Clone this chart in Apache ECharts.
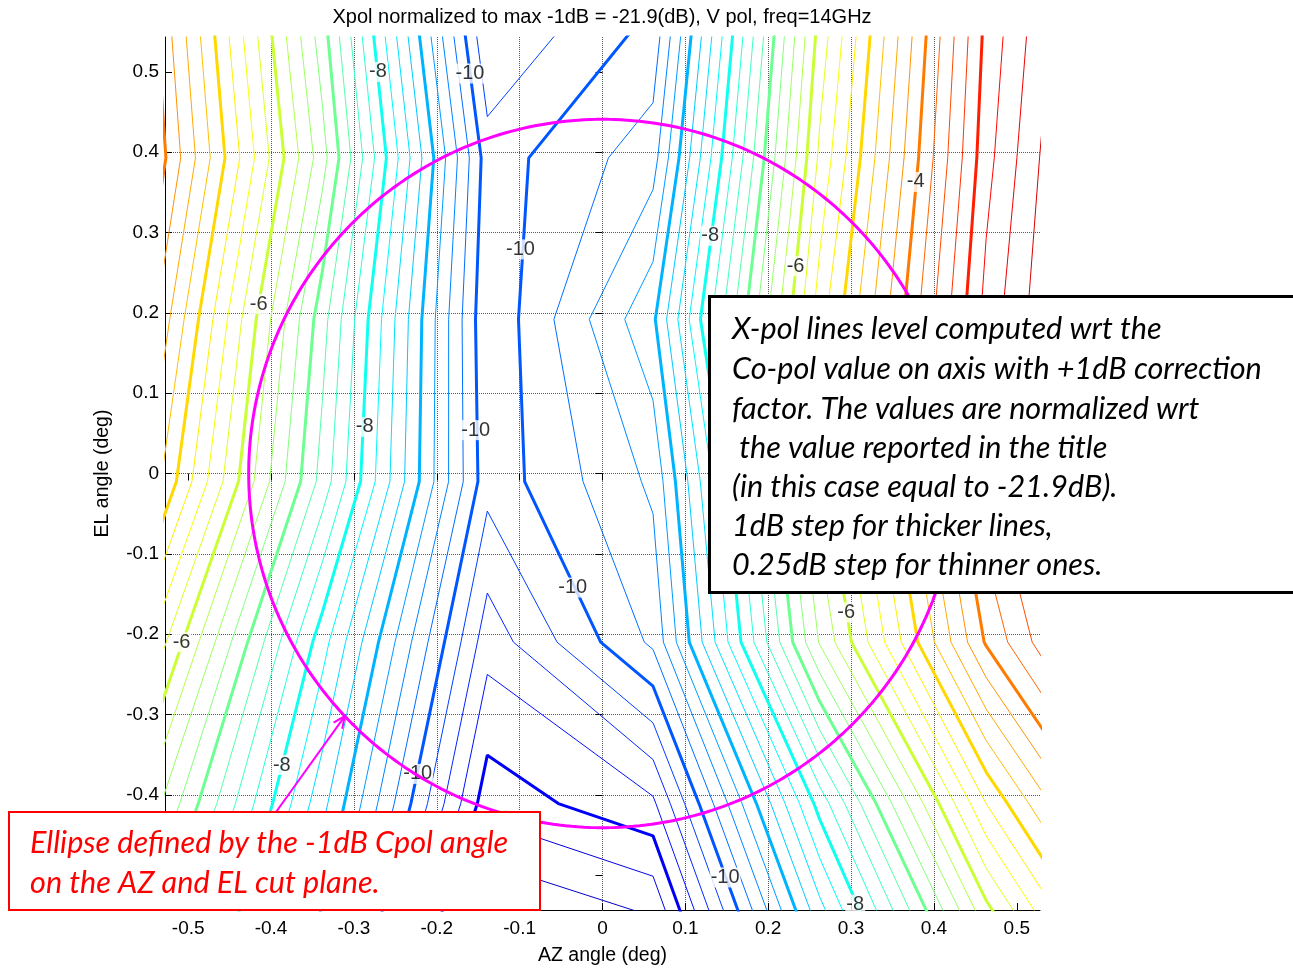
<!DOCTYPE html>
<html>
<head>
<meta charset="utf-8">
<title>Xpol contour</title>
<script src="https://cdn.jsdelivr.net/npm/echarts@6.0.0/dist/echarts.min.js"></script>
<style>
html, body { margin: 0; padding: 0; background: #ffffff; }
#chart { width: 1293px; height: 971px; }
</style>
</head>
<body>
<div id="chart"></div>
<script>
// AZ / EL sample positions of the cross-pol grid (deg)
const azNodes = [-0.539, -0.338, -0.139, 0.061, 0.262, 0.463, 0.664];
const elNodes = [0.594, 0.393, 0.192, -0.010, -0.210, -0.411, -0.612];

// Normalized X-pol level (dB) along AZ, one array per EL sample row
const xpolEl0594  = [-4.02, -6.96, -10.60, -10.02, -5.97, -2.96, -1.20];
const xpolEl0393  = [-3.83, -6.65, -10.13,  -9.61, -5.70, -2.84, -1.00];
const xpolEl0192  = [-4.26, -7.15, -10.22,  -9.05, -5.36, -2.66, -1.00];
const xpolElM0010 = [-4.67, -7.35, -10.16,  -9.45, -6.10, -3.55, -2.00];
const xpolElM0210 = [-5.59, -8.15, -10.65,  -9.70, -6.48, -3.97, -2.27];
const xpolElM0411 = [-6.43, -8.67, -11.15, -10.80, -7.90, -5.25, -3.30];
const xpolElM0612 = [-7.20, -9.20, -12.10, -11.80, -8.94, -6.50, -4.50];

// Tick values of both axes
const azTicks = [-0.5, -0.4, -0.3, -0.2, -0.1, 0, 0.1, 0.2, 0.3, 0.4, 0.5];
const elTicks = [-0.5, -0.4, -0.3, -0.2, -0.1, 0, 0.1, 0.2, 0.3, 0.4, 0.5];

// Contour levels: 1 dB thick lines, 0.25 dB thin lines in between
const thickLevels = [-12, -11, -10, -9, -8, -7, -6, -5, -4, -3, -2, -1];
const thinOffsets = [0.25, 0.5, 0.75];

// Inline contour labels: [AZ, EL, text]
const lineLabels = [
  [-0.271, 0.500, '-8'], [-0.160, 0.498, '-10'], [-0.099, 0.279, '-10'],
  [0.130, 0.296, '-8'], [0.233, 0.258, '-6'], [0.378, 0.363, '-4'],
  [-0.415, 0.211, '-6'], [-0.287, 0.058, '-8'], [-0.153, 0.054, '-10'],
  [-0.036, -0.142, '-10'], [0.294, -0.173, '-6'], [-0.508, -0.210, '-6'],
  [-0.387, -0.363, '-8'], [-0.223, -0.374, '-10'], [0.148, -0.503, '-10'],
  [0.305, -0.537, '-8']
];

// -1 dB Cpol ellipse half widths (deg) and its pointer
const ellipseHalfAz = 0.427;
const ellipseHalfEl = 0.441;
const arrowTip = [-0.311, -0.302];
const arrowTail = [-0.418, -0.456];

const titleText = 'Xpol normalized to max -1dB = -21.9(dB), V pol, freq=14GHz';
const noteLines = [
  'X-pol lines level computed wrt the',
  'Co-pol value on axis with +1dB correction',
  'factor. The values are normalized wrt',
  ' the value reported in the title',
  '(in this case equal to -21.9dB).',
  '1dB step for thicker lines,',
  '0.25dB step for thinner ones.'
];
const ellipseNote = ['Ellipse defined by the -1dB Cpol angle', 'on the AZ and EL cut plane.'];

const xpolGrid = [xpolEl0594, xpolEl0393, xpolEl0192, xpolElM0010, xpolElM0210, xpolElM0411, xpolElM0612];
const azRange = [-0.528, 0.528];
const elRange = [-0.5435, 0.5435];
const colourLimits = [-12.3, -1.3];
const sans = '"Liberation Sans", Arial, Helvetica, sans-serif';
const noteFont = 'Lato, "Open Sans", sans-serif';

// jet colour map
function jet(level) {
  const t = Math.min(1, Math.max(0, (level - colourLimits[0]) / (colourLimits[1] - colourLimits[0])));
  const c = v => Math.round(255 * Math.min(1, Math.max(0, v)));
  return 'rgb(' + c(1.5 - Math.abs(4 * t - 3)) + ',' + c(1.5 - Math.abs(4 * t - 2)) + ',' + c(1.5 - Math.abs(4 * t - 1)) + ')';
}

// Marching squares on the sample grid, returns polylines for one level
function traceLevel(level) {
  const nr = elNodes.length, nc = azNodes.length;
  const cross = (r1, c1, r2, c2) => {
    const v1 = xpolGrid[r1][c1], v2 = xpolGrid[r2][c2];
    const t = (level - v1) / (v2 - v1);
    return [azNodes[c1] + t * (azNodes[c2] - azNodes[c1]), elNodes[r1] + t * (elNodes[r2] - elNodes[r1])];
  };
  const segs = [];
  for (let r = 0; r < nr - 1; r++) {
    for (let c = 0; c < nc - 1; c++) {
      const tl = xpolGrid[r][c], tr = xpolGrid[r][c + 1];
      const bl = xpolGrid[r + 1][c], br = xpolGrid[r + 1][c + 1];
      const up = v => v >= level;
      const pts = {};
      if (up(tl) !== up(tr)) pts.t = cross(r, c, r, c + 1);
      if (up(tr) !== up(br)) pts.r = cross(r, c + 1, r + 1, c + 1);
      if (up(bl) !== up(br)) pts.b = cross(r + 1, c, r + 1, c + 1);
      if (up(tl) !== up(bl)) pts.l = cross(r, c, r + 1, c);
      const keys = Object.keys(pts);
      if (keys.length === 2) {
        segs.push([pts[keys[0]], pts[keys[1]]]);
      } else if (keys.length === 4) {
        const centre = (tl + tr + bl + br) / 4;
        if (up(centre) === up(tl)) {
          segs.push([pts.t, pts.r]);
          segs.push([pts.b, pts.l]);
        } else {
          segs.push([pts.t, pts.l]);
          segs.push([pts.r, pts.b]);
        }
      }
    }
  }
  // join segments into polylines
  const key = p => p[0].toFixed(9) + ',' + p[1].toFixed(9);
  const ends = new Map();
  segs.forEach((s, i) => s.forEach(p => {
    const k = key(p);
    if (!ends.has(k)) ends.set(k, []);
    ends.get(k).push(i);
  }));
  const used = segs.map(() => false);
  const nextFrom = p => {
    const list = ends.get(key(p)) || [];
    for (const j of list) {
      if (!used[j]) {
        used[j] = true;
        const s = segs[j];
        return key(s[0]) === key(p) ? s[1] : s[0];
      }
    }
    return null;
  };
  const degree = p => (ends.get(key(p)) || []).length;
  const order = segs.map((s, i) => i).sort((a, b) =>
    Math.min(degree(segs[a][0]), degree(segs[a][1])) - Math.min(degree(segs[b][0]), degree(segs[b][1])));
  const lines = [];
  for (const i of order) {
    if (used[i]) continue;
    used[i] = true;
    const line = [segs[i][0], segs[i][1]];
    let p;
    while ((p = nextFrom(line[line.length - 1]))) line.push(p);
    while ((p = nextFrom(line[0]))) line.unshift(p);
    lines.push(line);
  }
  return lines;
}

const series = [];
function addLevel(level, width) {
  traceLevel(level).forEach(line => {
    series.push({
      type: 'line', data: line, symbol: 'none', showSymbol: false, silent: true,
      clip: true, z: width > 2 ? 3 : 2,
      lineStyle: { color: jet(level), width: width, join: 'bevel' }
    });
  });
}
thickLevels.forEach(L => thinOffsets.forEach(o => addLevel(L + o, 1)));
thickLevels.forEach(L => addLevel(L, 3));

// -1 dB ellipse
const ellipsePts = [];
for (let k = 0; k <= 360; k++) {
  const a = k * Math.PI / 180;
  ellipsePts.push([ellipseHalfAz * Math.cos(a), ellipseHalfEl * Math.sin(a)]);
}
const ellipseSeriesIndex = series.length;
series.push({
  type: 'line', data: ellipsePts, symbol: 'none', silent: true, z: 6,
  lineStyle: { color: '#ff00ff', width: 3 }
});

// contour labels
series.push({
  type: 'scatter', data: lineLabels, symbolSize: 0, silent: true, z: 5,
  label: {
    show: true, position: 'inside', formatter: p => p.data[2],
    color: '#000', fontSize: 20, fontFamily: sans,
    backgroundColor: '#ffffff', padding: [0, 1]
  }
});

const tickText = v => (Math.abs(v) < 1e-9 ? '0' : v.toFixed(1));
const tickStyle = { show: true, inside: true, length: 7, lineStyle: { color: '#000', width: 1 } };
const gridLineStyle = { color: '#5a5a5a', width: 1, type: [1, 1] };

const option = {
  animation: false,
  backgroundColor: '#ffffff',
  grid: { left: 165, top: 37, width: 875, height: 875, containLabel: false },
  xAxis: [{
    type: 'value', min: azRange[0], max: azRange[1], position: 'bottom', splitNumber: 10,
    axisLine: { show: true, onZero: false, lineStyle: { color: '#000', width: 1 } },
    axisTick: Object.assign({ customValues: azTicks }, tickStyle),
    axisLabel: { show: true, customValues: azTicks, formatter: tickText, color: '#000', fontSize: 19, fontFamily: sans, margin: 9 },
    splitLine: { show: true, showMinLine: false, showMaxLine: false, lineStyle: gridLineStyle },
    name: 'AZ angle (deg)', nameLocation: 'middle', nameGap: 36,
    nameTextStyle: { color: '#000', fontSize: 19.5, fontFamily: sans }
  }, {
    type: 'value', min: azRange[0], max: azRange[1], position: 'top', splitNumber: 10,
    axisLine: { show: false },
    axisTick: Object.assign({ customValues: azTicks }, tickStyle),
    axisLabel: { show: false }, splitLine: { show: false }
  }],
  yAxis: [{
    type: 'value', min: elRange[0], max: elRange[1], position: 'left', splitNumber: 10,
    axisLine: { show: true, onZero: false, lineStyle: { color: '#000', width: 1 } },
    axisTick: Object.assign({ customValues: elTicks }, tickStyle),
    axisLabel: { show: true, customValues: elTicks, formatter: tickText, color: '#000', fontSize: 19, fontFamily: sans, margin: 6 },
    splitLine: { show: true, showMinLine: false, showMaxLine: false, lineStyle: gridLineStyle },
    name: 'EL angle (deg)', nameLocation: 'middle', nameGap: 52, nameRotate: 90,
    nameTextStyle: { color: '#000', fontSize: 19.5, fontFamily: sans }
  }, {
    type: 'value', min: elRange[0], max: elRange[1], position: 'right', splitNumber: 10,
    axisLine: { show: false },
    axisTick: Object.assign({ customValues: elTicks }, tickStyle),
    axisLabel: { show: false }, splitLine: { show: false }
  }],
  series: series
};

const chart = echarts.init(document.getElementById('chart'), null, { renderer: 'canvas' });
chart.setOption(option);

// annotations: title, pointer arrow, note boxes
const tip = chart.convertToPixel({ seriesIndex: ellipseSeriesIndex }, arrowTip);
const tail = chart.convertToPixel({ seriesIndex: ellipseSeriesIndex }, arrowTail);
const ang = Math.atan2(tail[1] - tip[1], tail[0] - tip[0]);
const barb = 13, spread = 0.42;
const barbA = [tip[0] + barb * Math.cos(ang + spread), tip[1] + barb * Math.sin(ang + spread)];
const barbB = [tip[0] + barb * Math.cos(ang - spread), tip[1] + barb * Math.sin(ang - spread)];

const noteY = [329, 369, 409, 448, 487, 526, 565];
const noteSize = 30.6;
const graphics = [
  {
    type: 'text', x: 602, y: 17, z: 50,
    style: { text: titleText, fill: '#000', font: '20px ' + sans, align: 'center', verticalAlign: 'middle' }
  },
  {
    type: 'polyline', z: 80, silent: true,
    shape: { points: [tail, tip] },
    style: { stroke: '#ff00ff', lineWidth: 2, fill: null }
  },
  {
    type: 'polyline', z: 80, silent: true,
    shape: { points: [barbA, tip, barbB] },
    style: { stroke: '#ff00ff', lineWidth: 2, fill: null }
  },
  {
    type: 'rect', z: 90, silent: true,
    shape: { x: 709.5, y: 296.5, width: 600, height: 296 },
    style: { fill: '#ffffff', stroke: '#000000', lineWidth: 3 }
  },
  {
    type: 'rect', z: 90, silent: true,
    shape: { x: 9, y: 812, width: 531, height: 98 },
    style: { fill: '#ffffff', stroke: '#ff0000', lineWidth: 2 }
  }
];
noteLines.forEach((t, i) => graphics.push({
  type: 'text', x: 732, y: noteY[i], z: 95, silent: true,
  style: { text: t, fill: '#000', font: 'italic ' + noteSize + 'px ' + noteFont, align: 'left', verticalAlign: 'middle' }
}));
ellipseNote.forEach((t, i) => graphics.push({
  type: 'text', x: 30, y: [843, 883][i], z: 95, silent: true,
  style: { text: t, fill: '#ff0000', font: 'italic ' + noteSize + 'px ' + noteFont, align: 'left', verticalAlign: 'middle' }
}));
chart.setOption({ graphic: graphics });
</script>
</body>
</html>
